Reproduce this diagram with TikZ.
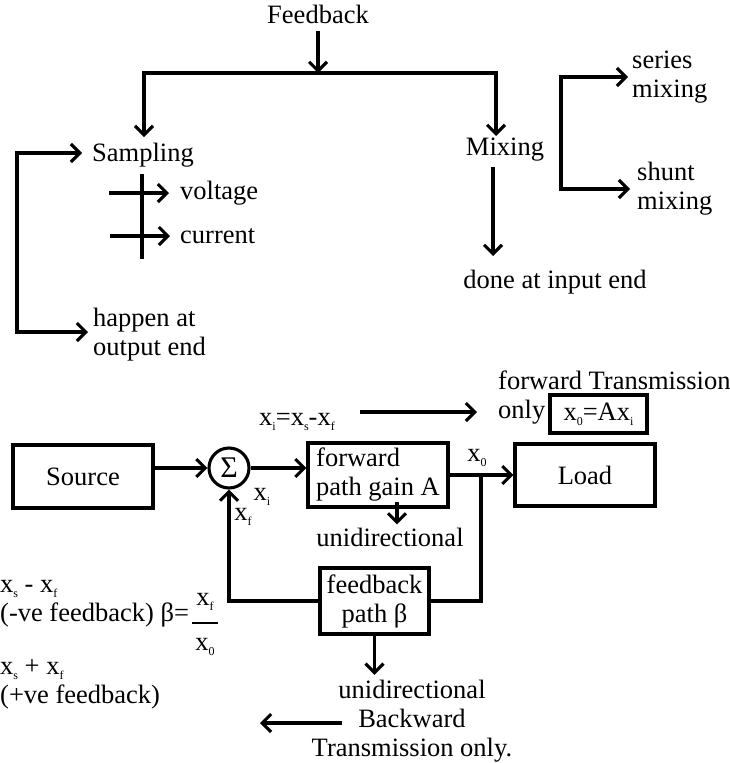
\documentclass[tikz,border=0pt]{standalone}
\usepackage{fontspec}
\setmainfont{Liberation Serif}
\usetikzlibrary{arrows.meta}
\newcommand\lsub[1]{\raisebox{-0.2em}{\fontsize{12}{12}\selectfont #1}}
\begin{document}
\begin{tikzpicture}[x=1pt,y=-1pt,
  every node/.style={font=\fontsize{26.5}{29}\selectfont, inner sep=0pt},
  ln/.style={line width=3.1pt},
  tip/.tip={Straight Barb[length=9pt,width=18pt]},
  arr/.style={ln, -tip},
  dblarr/.style={ln, tip-tip},
  blk/.style={draw, line width=3.1pt, inner sep=2pt}]
\useasboundingbox (0,0) rectangle (730,763);

% ---------- upper classification ----------
\node (fb) at (318,14) {Feedback};
\coordinate (hj) at (318,73);
\draw[arr] ([yshift=-7pt]fb.south) -- (hj);

\node (samp) at (143,155) {Sampling};
\node (mix) at (505,150) {Mixing};
\coordinate (sampin) at (144,137);
\coordinate (mixin) at (496,136);
\draw[arr] (hj) -| (sampin);
\draw[arr] (hj) -| (mixin);

\node[anchor=west, align=left] (hap) at (93,335) {happen at\\output end};
\coordinate (lbt) at (17,153);
\coordinate (lbb) at (17,332);
\draw[dblarr] ([xshift=-10pt]samp.west |- lbt) -- (lbt) -- (lbb) -- ([xshift=-5pt]hap.west |- lbb);

\coordinate (bt) at (142,174);
\coordinate (bb) at (142,259);
\draw[ln] (bt) -- (bb);
\node[anchor=west] (volt) at (180,193) {voltage};
\node[anchor=west] (curr) at (180,236) {current};
\coordinate (vs) at (109,193);
\coordinate (cs) at (110,236);
\draw[arr] (vs) -- ([xshift=-11pt]volt.west);
\draw[arr] (cs) -- ([xshift=-10pt]curr.west);

\node (done) at (555,282) {done at input end};
\coordinate (dn) at (493,256);
\draw[arr] ([xshift=-12pt,yshift=-5pt]mix.south) -- (dn);

\node[anchor=west, align=left] (ser) at (632,77) {series\\mixing};
\node[anchor=west, align=left] (shu) at (637,189) {shunt\\mixing};
\coordinate (rbt) at (561,77);
\coordinate (rbb) at (561,189);
\draw[dblarr] ([xshift=-4pt]ser.west) -- (rbt) -- (rbb) -- ([xshift=-7pt]shu.west);

% ---------- block diagram ----------
\node[blk, minimum width=140pt, minimum height=63pt] (src) at (83,476.5) {Source};
\node[circle, draw, line width=3.1pt, minimum size=40pt, font=\fontsize{30}{30}\selectfont] (sig) at (229,468) {Σ};
\node[blk, minimum width=140pt, minimum height=64pt, align=left] (fwd) at (378,475) {forward\\path gain A};
\node[blk, minimum width=140pt, minimum height=62pt] (load) at (585,475) {Load};
\node[blk, minimum width=109pt, minimum height=66pt, align=center] (fbk) at (374.5,601) {feedback\\path β};

\draw[arr] (src.east |- sig.west) -- (sig.west);
\draw[arr] (sig.east) -- (sig.east -| fwd.west);
\draw[arr] (fwd.east) -- (load.west);
\coordinate (jn) at (481,475);
\draw[ln] (jn) |- (fbk.east);
\draw[arr] (fbk.west) -| (sig.south);

\node (xi) at (262,497) {x\lsub{i}};
\node (xo) at (477,458) {x\lsub{0}};
\node (xf) at (243,517) {x\lsub{f}};

\node (uni1) at (390,537) {unidirectional};
\draw[arr] ([xshift=19pt,yshift=7pt]fwd.south) -- ([yshift=3pt]uni1.north -| 397,0);

\node[align=center] (bwd) at (412,721) {unidirectional\\Backward\\Transmission only.};
\draw[arr] (fbk.south) -- ([yshift=5pt]fbk.south |- bwd.north);
\coordinate (ba) at (342,723);
\coordinate (bz) at (260,723);
\draw[arr] (ba) -- (bz);

\node (xeq) at (297,422) {x\lsub{i}=x\lsub{s}-x\lsub{f}};
\coordinate (fa) at (360,412);
\coordinate (fz) at (477,412);
\draw[arr] (fa) -- (fz);
\node[anchor=west, align=left] (ftx) at (498,398) {forward Transmission\\only};
\node[blk, minimum width=97pt, minimum height=38pt] (eqb) at (598.5,414) {x\lsub{0}=Ax\lsub{i}};

% ---------- left notes ----------
\node[anchor=base west, align=left] (t1) at (0,621) {x\lsub{s} - x\lsub{f}\\(-ve feedback) β=};
\node (fn) at (205,602) {x\lsub{f}};
\node (fd) at (205,647) {x\lsub{0}};
\draw[line width=1.2pt] (192,623) -- (218,623);
\node[anchor=base west, align=left] (t3) at (0,703) {x\lsub{s} + x\lsub{f}\\(+ve feedback)};
\end{tikzpicture}
\end{document}
